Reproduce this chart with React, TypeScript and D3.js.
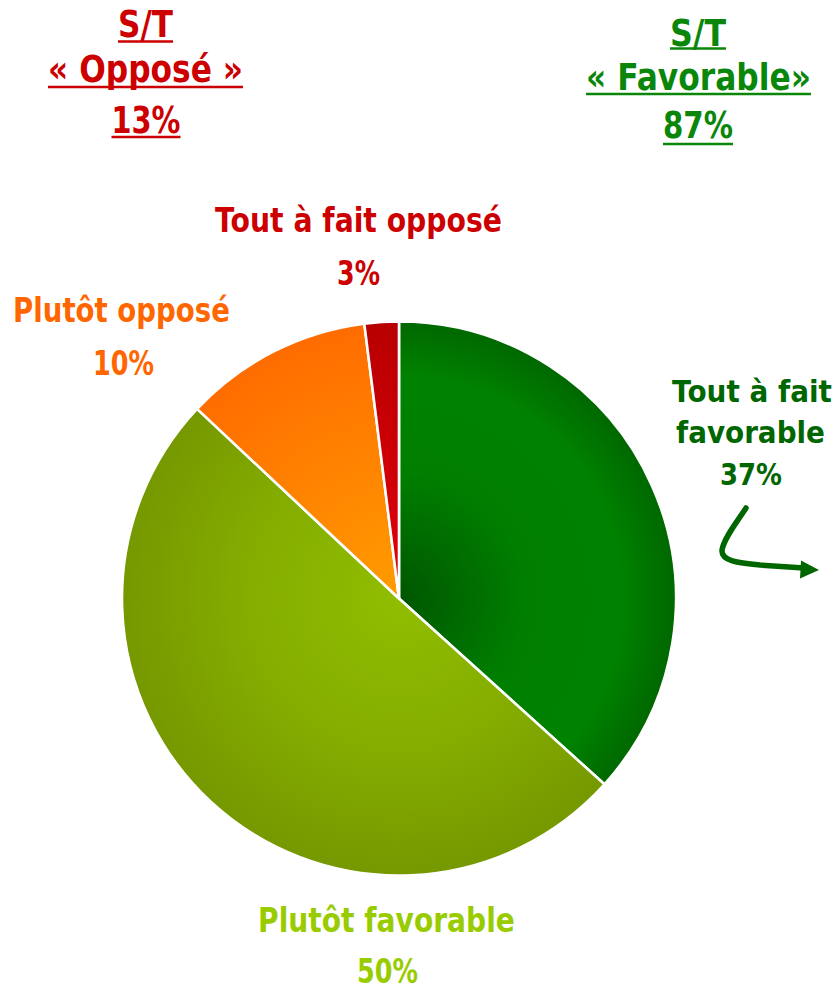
import React, { useLayoutEffect, useRef, useState } from "react";
import * as d3 from "d3";

// ---- data ----
const categories = ["Tout à fait favorable", "Plutôt favorable", "Plutôt opposé", "Tout à fait opposé"];
const shares = [36.7, 50.3, 11.0, 2.0]; // slice shares
const labelPercents = ["37%", "50%", "10%", "3%"];
const totals = [
  { title: "S/T", name: "« Opposé »", pct: "13%" },
  { title: "S/T", name: "« Favorable»", pct: "87%" },
];

const W = 836;
const H = 990;
const cx = 399;
const cy = 598.5;
const R = 277;

const grads = [
  [["0", "#005600"], ["0.45", "#007e00"], ["0.8", "#008200"], ["1", "#006800"]],
  [["0", "#90bd00"], ["0.55", "#84ad00"], ["1", "#769800"]],
  [["0", "#ff9c00"], ["1", "#ff6c00"]],
  [["0", "#e2000c"], ["1", "#b80000"]],
];

const FONT = "'DejaVu Sans', Verdana, sans-serif";

function T({ x, y, w, size, color, children, underline }: any) {
  const ref = useRef<SVGTextElement>(null);
  const [sx, setSx] = useState(1);
  useLayoutEffect(() => {
    if (ref.current) {
      const n = ref.current.getComputedTextLength();
      if (n > 0) setSx(w / n);
    }
  }, [w, size, children]);
  return (
    <g>
      <g transform={`translate(${x},${y}) scale(${sx},1)`}>
        <text
          ref={ref}
          x={0}
          y={0}
          textAnchor="middle"
          fontFamily={FONT}
          fontWeight="bold"
          fontSize={size}
          fill={color}
        >
          {children}
        </text>
      </g>
      {underline != null && (
        <line x1={x - w / 2} x2={x + w / 2} y1={underline} y2={underline} stroke={color} strokeWidth={2.6} />
      )}
    </g>
  );
}

export default function App() {
  const pie = d3
    .pie<number>()
    .sort(null)
    .startAngle(0)
    .endAngle(Math.PI * 2)
    .value((d) => d);
  const arcs = pie(shares);
  const arc = d3.arc<d3.PieArcDatum<number>>().innerRadius(0).outerRadius(R);

  const red = "#cc0000";
  const hdrGreen = "#0a870a";
  const darkGreen = "#006600";
  const orange = "#ff6600";
  const lime = "#99cc00";

  return (
    <svg width={W} height={H} style={{ position: "absolute", left: 0, top: 0 }}>
      <defs>
        {grads.map((g, i) => (
          <radialGradient key={i} id={`g${i}`} gradientUnits="userSpaceOnUse" cx={0} cy={0} r={R}>
            {g.map(([o, c]) => (
              <stop key={o} offset={o} stopColor={c} />
            ))}
          </radialGradient>
        ))}
      </defs>
      <rect width={W} height={H} fill="#fff" />
      <g transform={`translate(${cx},${cy})`}>
        {arcs.map((a, i) => (
          <path
            key={categories[i]}
            d={arc(a) as string}
            fill={`url(#g${i})`}
            stroke="#fff"
            strokeWidth={2.6}
            strokeLinejoin="round"
          />
        ))}
      </g>

      {/* totals */}
      <T x={145.5} y={37} w={55} size={37} color={red} underline={41.5}>{totals[0].title}</T>
      <T x={145.5} y={82} w={195} size={37} color={red} underline={87}>{totals[0].name}</T>
      <T x={146} y={133} w={69} size={37} color={red} underline={137}>{totals[0].pct}</T>

      <T x={698} y={46} w={56} size={37} color={hdrGreen} underline={48.5}>{totals[1].title}</T>
      <T x={698.5} y={90} w={225} size={37} color={hdrGreen} underline={94}>{totals[1].name}</T>
      <T x={698} y={138} w={70} size={37} color={hdrGreen} underline={144}>{totals[1].pct}</T>

      {/* slice labels */}
      <T x={358.5} y={232} w={287} size={34} color={red}>{categories[3]}</T>
      <T x={358.5} y={285} w={43} size={34} color={red}>{labelPercents[3]}</T>

      <T x={121.5} y={322} w={217} size={33} color={orange}>{categories[2]}</T>
      <T x={123.5} y={375} w={61} size={33} color={orange}>{labelPercents[2]}</T>

      <T x={752} y={402} w={160} size={30} color={darkGreen}>Tout à fait</T>
      <T x={750.5} y={443} w={149} size={30} color={darkGreen}>favorable</T>
      <T x={751} y={485} w={62} size={30} color={darkGreen}>{labelPercents[0]}</T>

      <T x={386.5} y={932} w={257} size={33} color={lime}>{categories[1]}</T>
      <T x={387.5} y={983} w={61} size={33} color={lime}>{labelPercents[1]}</T>

      {/* arrow */}
      <path
        d="M746,508 C737,522 724,538 722,550 C721,561 738,563 760,565 L804,568"
        fill="none"
        stroke={darkGreen}
        strokeWidth={5.5}
        strokeLinecap="round"
      />
      <polygon points="819,570 801,560.5 800,578.5" fill={darkGreen} />
    </svg>
  );
}
